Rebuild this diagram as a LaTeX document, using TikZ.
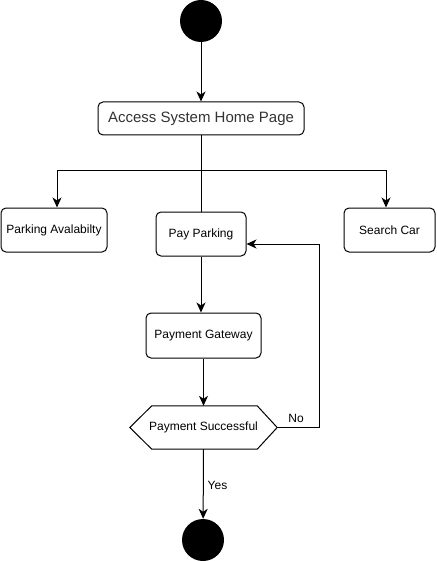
\documentclass[tikz,border=0pt]{standalone}
\usepackage{fontspec}
\setmainfont{Liberation Sans}
\usetikzlibrary{arrows.meta}
\definecolor{txtgray}{RGB}{51,51,51}
\tikzset{
  every node/.style={font=\fontsize{12pt}{14pt}\selectfont, inner sep=0pt},
  actbox/.style={draw=black, line width=1pt, rounded corners=5pt, align=center},
  dot/.style={circle, fill=black, draw=none, minimum size=42pt},
  arr/.style={draw=black, line width=1pt, -{Stealth[length=10pt,width=9pt,inset=3pt]}},
  plain/.style={draw=black, line width=1pt},
}
\begin{document}
\begin{tikzpicture}[x=1pt,y=-1pt]
\useasboundingbox (0,0) rectangle (436,561);
% nodes
\node[dot] (start) at (201,21) {};
\node[actbox, minimum width=206pt, minimum height=33pt, text=txtgray,
      font=\fontsize{15pt}{18pt}\selectfont] (access) at (201,118.5) {Access System Home Page};
\node[actbox, minimum width=106pt, minimum height=44pt] (avail) at (54,230) {Parking Avalabilty};
\node[actbox, minimum width=90pt, minimum height=44pt] (pay) at (201,234) {Pay Parking};
\node[actbox, minimum width=91pt, minimum height=44pt] (search) at (389.5,230) {Search Car};
\node[actbox, minimum width=115pt, minimum height=45pt] (gw) at (203.5,335.5) {Payment Gateway};
\node[minimum width=147pt, minimum height=43pt] (ps) at (203.5,427.5) {Payment Successful};
\draw[plain] (ps.west) -- ([xshift=22pt]ps.north west) -- ([xshift=-20pt]ps.north east)
   -- (ps.east) -- ([xshift=-20pt]ps.south east) -- ([xshift=22pt]ps.south west) -- cycle;
\node[dot] (end) at (203,540) {};
\node (nolbl) at (296,418) {No};
\node (yeslbl) at (217.5,485) {Yes};
\coordinate (br) at (201,171);
\coordinate (back) at (319,427.5);
% connectors
\draw[arr] (start) -- (access);
\draw[plain] (access) -- (pay);
\draw[arr] (br) -| ([xshift=3pt]avail.north);
\draw[arr] (br) -| ([xshift=-3.5pt]search.north);
\draw[arr] (pay.south) -- (pay.south |- gw.north);
\draw[arr] (gw) -- (ps.north);
\draw[arr] (ps.east) -- (back) |- ([yshift=-10pt]pay.east);
\draw[arr] (ps.south) -- (end);
\end{tikzpicture}
\end{document}
